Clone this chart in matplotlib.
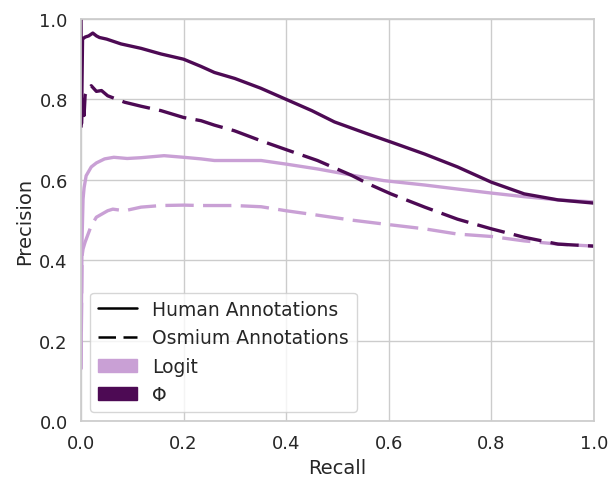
import matplotlib
matplotlib.use("Agg")
import matplotlib.pyplot as plt
import seaborn as sns
from matplotlib.lines import Line2D
from matplotlib.patches import Patch

# Phi, human annotations (solid dark)
phi_human_recall = [0, 0.001, 0.003, 0.008, 0.015, 0.023, 0.03, 0.036, 0.05, 0.078, 0.117, 0.156, 0.2,
                    0.234, 0.26, 0.3, 0.35, 0.4, 0.45, 0.494, 0.559, 0.604, 0.67, 0.734, 0.8, 0.864, 0.93, 1.0]
phi_human_prec = [1.0, 0.74, 0.95, 0.955, 0.958, 0.965, 0.958, 0.954, 0.95, 0.938, 0.927, 0.913, 0.90,
                  0.882, 0.867, 0.852, 0.828, 0.80, 0.772, 0.744, 0.714, 0.694, 0.664, 0.632, 0.594, 0.565, 0.55, 0.542]

# Phi, Osmium annotations (dashed dark)
phi_osm_recall = [0, 0.002, 0.004, 0.006, 0.008, 0.012, 0.02, 0.03, 0.04, 0.052, 0.085, 0.117, 0.156, 0.2,
                  0.234, 0.26, 0.299, 0.351, 0.4, 0.461, 0.526, 0.56, 0.604, 0.67, 0.734, 0.8, 0.864, 0.93, 1.0]
phi_osm_prec = [0.73, 0.78, 0.80, 0.76, 0.81, 0.825, 0.834, 0.82, 0.822, 0.809, 0.793, 0.783, 0.772, 0.755,
                0.747, 0.736, 0.722, 0.697, 0.675, 0.648, 0.612, 0.59, 0.565, 0.532, 0.502, 0.478, 0.457, 0.44, 0.435]

# Logit, human annotations (solid light)
logit_human_recall = [0, 0.001, 0.002, 0.004, 0.006, 0.01, 0.02, 0.03, 0.046, 0.064, 0.09, 0.117, 0.162, 0.2,
                      0.234, 0.26, 0.299, 0.351, 0.4, 0.461, 0.526, 0.59, 0.67, 0.734, 0.8, 0.864, 0.93, 1.0]
logit_human_prec = [0.13, 0.30, 0.45, 0.552, 0.58, 0.61, 0.632, 0.642, 0.652, 0.656, 0.653, 0.655, 0.66, 0.656,
                    0.652, 0.648, 0.648, 0.648, 0.639, 0.627, 0.612, 0.598, 0.587, 0.577, 0.567, 0.558, 0.55, 0.545]

# Logit, Osmium annotations (dashed light)
logit_osm_recall = [0, 0.002, 0.004, 0.008, 0.02, 0.03, 0.052, 0.062, 0.085, 0.117, 0.156, 0.2,
                    0.234, 0.299, 0.351, 0.4, 0.461, 0.526, 0.59, 0.67, 0.734, 0.8, 0.864, 0.93, 1.0]
logit_osm_prec = [0.13, 0.41, 0.428, 0.445, 0.486, 0.507, 0.523, 0.527, 0.523, 0.532, 0.536, 0.537,
                  0.536, 0.536, 0.533, 0.523, 0.512, 0.50, 0.49, 0.478, 0.465, 0.459, 0.448, 0.44, 0.435]

LIGHT = "#c9a0d5"
DARK = "#4d0a54"

sns.set_theme(style="whitegrid")
plt.rcParams["font.family"] = ["DejaVu Sans"]

fig = plt.figure(figsize=(6.08, 4.81), dpi=100)
ax = fig.add_axes([81 / 608, 1 - 422 / 481, (594 - 81) / 608, (422 - 20) / 481])

lw = 2.4
dash = (8.5, 2.8)
ax.plot(logit_human_recall, logit_human_prec, color=LIGHT, lw=lw)
l, = ax.plot(logit_osm_recall, logit_osm_prec, color=LIGHT, lw=lw)
l.set_dashes(dash)
ax.plot(phi_human_recall, phi_human_prec, color=DARK, lw=lw)
l, = ax.plot(phi_osm_recall, phi_osm_prec, color=DARK, lw=lw)
l.set_dashes(dash)

ax.set_xlim(0, 1)
ax.set_ylim(0, 1)
ax.set_xticks([0, 0.2, 0.4, 0.6, 0.8, 1.0])
ax.set_yticks([0, 0.2, 0.4, 0.6, 0.8, 1.0])
ax.tick_params(labelsize=13)
ax.set_xlabel("Recall", fontsize=14)
ax.set_ylabel("Precision", fontsize=14)

handles = [
    Line2D([], [], color="black", lw=1.8, linestyle="-"),
    Line2D([], [], color="black", lw=1.8, linestyle=(0, (7, 3))),
    Patch(facecolor=LIGHT, edgecolor=LIGHT),
    Patch(facecolor=DARK, edgecolor=DARK),
]
labels = ["Human Annotations", "Osmium Annotations", "Logit", "\u03a6"]
ax.legend(handles, labels, loc="lower left", fontsize=13.5, frameon=True, handlelength=2.1)

fig.savefig("out.png", dpi=100)
